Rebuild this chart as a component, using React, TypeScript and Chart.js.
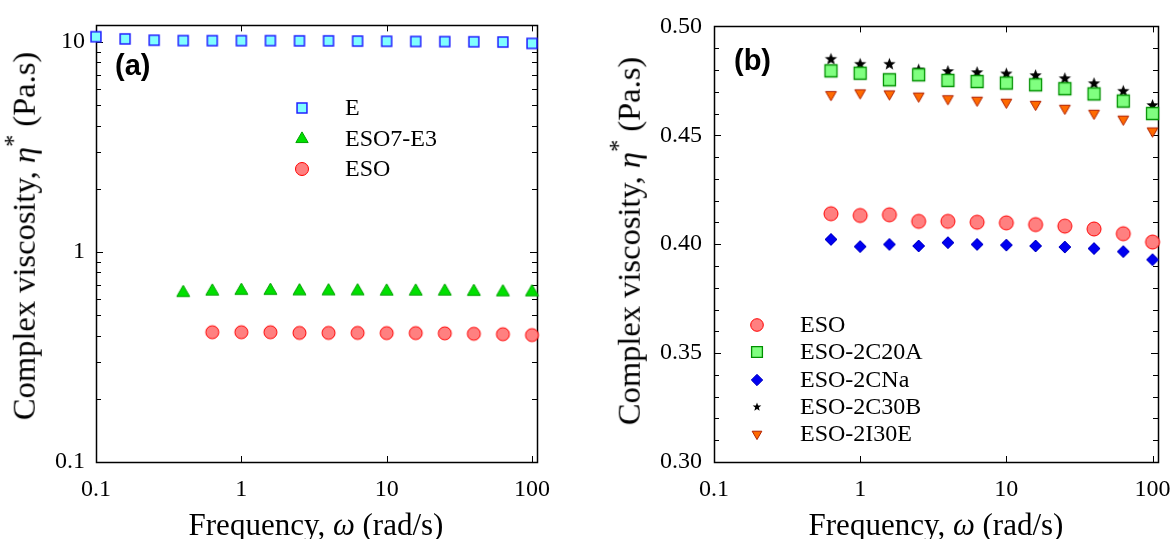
import React, { useEffect, useRef } from 'react';
import { Chart, registerables } from 'chart.js';

Chart.register(...registerables);

// ---------- data ----------
const FREQ_A_E = [0.1, 0.1585, 0.2512, 0.3981, 0.631, 1, 1.585, 2.512, 3.981, 6.31, 10, 15.85, 25.12, 39.81, 63.1, 100];
const VISC_A_E = [10.6, 10.35, 10.2, 10.16, 10.15, 10.15, 10.15, 10.13, 10.13, 10.1, 10.08, 10.06, 10.05, 10.03, 10.0, 9.85];

const FREQ_A_ESO7 = [0.3981, 0.631, 1, 1.585, 2.512, 3.981, 6.31, 10, 15.85, 25.12, 39.81, 63.1, 100];
const VISC_A_ESO7 = [0.64, 0.65, 0.655, 0.655, 0.652, 0.652, 0.652, 0.65, 0.65, 0.65, 0.648, 0.645, 0.645];

const FREQ_A_ESO = [0.631, 1, 1.585, 2.512, 3.981, 6.31, 10, 15.85, 25.12, 39.81, 63.1, 100];
const VISC_A_ESO = [0.415, 0.415, 0.415, 0.412, 0.412, 0.412, 0.411, 0.411, 0.41, 0.408, 0.406, 0.402];

const FREQ_B = [0.631, 1, 1.585, 2.512, 3.981, 6.31, 10, 15.85, 25.12, 39.81, 63.1, 100];
const VISC_B_ESO = [0.414, 0.4132, 0.4135, 0.4105, 0.4105, 0.4101, 0.4098, 0.409, 0.4083, 0.407, 0.4048, 0.401];
const VISC_B_2C20A = [0.4796, 0.4785, 0.4755, 0.4778, 0.4752, 0.4747, 0.474, 0.4732, 0.4714, 0.469, 0.4657, 0.46];
const VISC_B_2CNA = [0.4022, 0.3989, 0.3999, 0.3992, 0.4007, 0.3999, 0.3996, 0.3992, 0.3987, 0.398, 0.3966, 0.3929];
const VISC_B_2C30B = [0.4849, 0.4826, 0.4826, 0.48, 0.4793, 0.4788, 0.4782, 0.4774, 0.476, 0.4737, 0.4702, 0.4637];
const VISC_B_2I30E = [0.4687, 0.4695, 0.469, 0.468, 0.4668, 0.4661, 0.4652, 0.4642, 0.4624, 0.4601, 0.4574, 0.452];

const LABELS_A = ['E', 'ESO7-E3', 'ESO'];
const LABELS_B = ['ESO', 'ESO-2C20A', 'ESO-2CNa', 'ESO-2C30B', 'ESO-2I30E'];

const X_TICKS = [0.1, 1, 10, 100];
const X_TICK_LABELS = ['0.1', '1', '10', '100'];
const YA_TICKS = [0.1, 1, 10];
const YA_TICK_LABELS = ['0.1', '1', '10'];
const YA_MINOR_TICKS = [0.2, 0.3, 0.4, 0.5, 0.6, 0.7, 0.8, 0.9, 2, 3, 4, 5, 6, 7, 8, 9];
const YB_TICKS = [0.3, 0.35, 0.4, 0.45, 0.5];
const YB_TICK_LABELS = ['0.30', '0.35', '0.40', '0.45', '0.50'];
const YB_MINOR_TICKS = [0.31, 0.32, 0.33, 0.34, 0.36, 0.37, 0.38, 0.39, 0.41, 0.42, 0.43, 0.44, 0.46, 0.47, 0.48, 0.49];

// ---------- styles ----------
const SERIF = "'Liberation Serif', 'Times New Roman', serif";
Chart.defaults.font.family = SERIF;
Chart.defaults.color = '#000';

type Marker = { shape: string; r: number; fill: string; stroke: string; lw: number };

const M_E: Marker = { shape: 'rect', r: 7, fill: '#80FFFF', stroke: '#2020FF', lw: 1.5 };
const M_ESO7: Marker = { shape: 'triangle', r: 7.5, fill: '#00E000', stroke: '#00A000', lw: 1 };
const M_ESO_A: Marker = { shape: 'circle', r: 6.5, fill: '#FF8080', stroke: '#FF0000', lw: 1 };
const M_ESO_B: Marker = { shape: 'circle', r: 7, fill: '#FF8080', stroke: '#FF0000', lw: 1 };
const M_2C20A: Marker = { shape: 'rect', r: 8.5, fill: '#80FF80', stroke: '#009000', lw: 1.3 };
const M_2CNA: Marker = { shape: 'rectRot', r: 6, fill: '#0000F0', stroke: '#0000C0', lw: 1 };
const M_2C30B: Marker = { shape: 'star', r: 6.5, fill: '#000000', stroke: '#000000', lw: 0 };
const M_2I30E: Marker = { shape: 'triDown', r: 6.2, fill: '#FF6A00', stroke: '#B02000', lw: 1 };

function drawMarker(ctx: CanvasRenderingContext2D, m: Marker, x: number, y: number, scale = 1) {
  const r = m.r * scale;
  ctx.save();
  ctx.beginPath();
  if (m.shape === 'circle') {
    ctx.arc(x, y, r, 0, Math.PI * 2);
  } else if (m.shape === 'rect') {
    const s = r * Math.SQRT1_2;
    ctx.rect(x - s, y - s, 2 * s, 2 * s);
  } else if (m.shape === 'rectRot') {
    ctx.moveTo(x, y - r);
    ctx.lineTo(x + r, y);
    ctx.lineTo(x, y + r);
    ctx.lineTo(x - r, y);
    ctx.closePath();
  } else if (m.shape === 'triangle' || m.shape === 'triDown') {
    let a = m.shape === 'triDown' ? Math.PI : 0;
    for (let i = 0; i < 3; i++) {
      const px = x + Math.sin(a) * r;
      const py = y - Math.cos(a) * r;
      if (i === 0) ctx.moveTo(px, py);
      else ctx.lineTo(px, py);
      a += (2 * Math.PI) / 3;
    }
    ctx.closePath();
  } else if (m.shape === 'star') {
    for (let i = 0; i < 10; i++) {
      const rr = i % 2 === 0 ? r : r * 0.42;
      const a = (i * Math.PI) / 5;
      const px = x + Math.sin(a) * rr;
      const py = y - Math.cos(a) * rr;
      if (i === 0) ctx.moveTo(px, py);
      else ctx.lineTo(px, py);
    }
    ctx.closePath();
  }
  ctx.fillStyle = m.fill;
  ctx.fill();
  if (m.lw > 0) {
    ctx.lineWidth = m.lw;
    ctx.strokeStyle = m.stroke;
    ctx.stroke();
  }
  ctx.restore();
}

function markerImage(m: Marker): HTMLCanvasElement {
  const size = Math.ceil(m.r * 2 + 4);
  const c = document.createElement('canvas');
  c.width = size;
  c.height = size;
  const ctx = c.getContext('2d')!;
  drawMarker(ctx, m, size / 2, size / 2);
  return c;
}

function makeDataset(label: string, xs: number[], ys: number[], m: Marker) {
  return {
    label,
    data: xs.map((x, i) => ({ x, y: ys[i] })),
    pointStyle: markerImage(m) as any,
    pointRadius: m.r,
    showLine: false,
    clip: false as any,
  };
}

const framePlugin = {
  id: 'frame',
  beforeDatasetsDraw(chart: any, _args: any, opts: any) {
    const { ctx, chartArea } = chart;
    const { left, right, top, bottom } = chartArea;
    const x = chart.scales.x;
    const y = chart.scales.y;
    ctx.save();
    ctx.strokeStyle = '#000';
    ctx.lineWidth = 1;
    const line = (x1: number, y1: number, x2: number, y2: number) => {
      ctx.beginPath();
      ctx.moveTo(x1, y1);
      ctx.lineTo(x2, y2);
      ctx.stroke();
    };
    for (const v of opts.xMajor) {
      const px = Math.round(x.getPixelForValue(v)) + 0.5;
      line(px, bottom, px, bottom - 6);
      line(px, top, px, top + 6);
    }
    for (const v of opts.yMajor) {
      const py = Math.round(y.getPixelForValue(v)) + 0.5;
      line(left, py, left + 7, py);
      line(right, py, right - 7, py);
    }
    for (const v of opts.yMinor) {
      const py = Math.round(y.getPixelForValue(v)) + 0.5;
      line(left, py, left + 5, py);
      line(right, py, right - 5, py);
    }
    ctx.lineWidth = 1.5;
    ctx.strokeRect(Math.round(left) + 0.5, Math.round(top) + 0.5, Math.round(right - left), Math.round(bottom - top));
    ctx.restore();
  },
};

const legendPlugin = {
  id: 'customLegend',
  afterDatasetsDraw(chart: any, _args: any, opts: any) {
    const { ctx } = chart;
    ctx.save();
    ctx.font = `24px ${SERIF}`;
    ctx.fillStyle = '#000';
    ctx.textBaseline = 'middle';
    ctx.textAlign = 'left';
    opts.items.forEach((it: any) => {
      drawMarker(ctx, it.marker, opts.markerX, it.y, it.scale ?? 1);
      ctx.fillText(it.text, opts.textX, it.y + 1);
    });
    ctx.restore();
  },
};

function axisCommon(ticks: number[], labels: string[], padding: number, fit: (s: any) => void) {
  return {
    grid: { display: false, drawTicks: false },
    border: { display: false },
    ticks: {
      color: '#000',
      font: { family: SERIF, size: 24, style: 'normal', weight: 'normal' },
      padding,
      autoSkip: false,
      maxRotation: 0,
      minRotation: 0,
      major: { enabled: false },
      callback: (_v: any, i: number) => labels[i],
    },
    afterBuildTicks: (s: any) => {
      s.ticks = ticks.map((v) => ({ value: v }));
    },
    afterFit: fit,
  };
}

export default function App() {
  const refA = useRef<HTMLCanvasElement>(null);
  const refB = useRef<HTMLCanvasElement>(null);

  useEffect(() => {
    const chartA = new Chart(refA.current!, {
      type: 'scatter',
      data: {
        datasets: [
          makeDataset(LABELS_A[0], FREQ_A_E, VISC_A_E, M_E),
          makeDataset(LABELS_A[1], FREQ_A_ESO7, VISC_A_ESO7, M_ESO7),
          makeDataset(LABELS_A[2], FREQ_A_ESO, VISC_A_ESO, M_ESO_A),
        ] as any,
      },
      options: {
        responsive: false,
        animation: false,
        events: [],
        layout: { padding: { left: 0, right: 43, top: 20, bottom: 0 } },
        plugins: {
          legend: { display: false },
          tooltip: { enabled: false },
          frame: { xMajor: X_TICKS, yMajor: YA_TICKS, yMinor: YA_MINOR_TICKS },
          customLegend: {
            markerX: 302,
            textX: 345,
            items: [
              { text: LABELS_A[0], marker: M_E, y: 108 },
              { text: LABELS_A[1], marker: M_ESO7, y: 139, scale: 0.95 },
              { text: LABELS_A[2], marker: M_ESO_A, y: 169 },
            ],
          },
        } as any,
        scales: {
          x: {
            type: 'logarithmic',
            position: 'bottom',
            min: 0.1,
            max: 108.3,
            ...axisCommon(X_TICKS, X_TICK_LABELS, 13, (s: any) => { s.height = 77; }),
          } as any,
          y: {
            type: 'logarithmic',
            position: 'left',
            min: 0.1,
            max: 12,
            ...axisCommon(YA_TICKS, YA_TICK_LABELS, 11, (s: any) => { s.width = 96; }),
          } as any,
        },
      },
      plugins: [framePlugin, legendPlugin],
    });

    const chartB = new Chart(refB.current!, {
      type: 'scatter',
      data: {
        datasets: [
          makeDataset(LABELS_B[0], FREQ_B, VISC_B_ESO, M_ESO_B),
          makeDataset(LABELS_B[1], FREQ_B, VISC_B_2C20A, M_2C20A),
          makeDataset(LABELS_B[2], FREQ_B, VISC_B_2CNA, M_2CNA),
          makeDataset(LABELS_B[3], FREQ_B, VISC_B_2C30B, M_2C30B),
          makeDataset(LABELS_B[4], FREQ_B, VISC_B_2I30E, M_2I30E),
        ] as any,
      },
      options: {
        responsive: false,
        animation: false,
        events: [],
        layout: { padding: { left: 0, right: 62, top: 21, bottom: 0 } },
        plugins: {
          legend: { display: false },
          tooltip: { enabled: false },
          frame: { xMajor: X_TICKS, yMajor: YB_TICKS, yMinor: YB_MINOR_TICKS },
          customLegend: {
            markerX: 177,
            textX: 220,
            items: [
              { text: LABELS_B[0], marker: M_ESO_B, y: 325, scale: 0.9 },
              { text: LABELS_B[1], marker: M_2C20A, y: 352, scale: 0.9 },
              { text: LABELS_B[2], marker: M_2CNA, y: 380, scale: 0.95 },
              { text: LABELS_B[3], marker: M_2C30B, y: 407, scale: 0.7 },
              { text: LABELS_B[4], marker: M_2I30E, y: 434, scale: 0.9 },
            ],
          },
        } as any,
        scales: {
          x: {
            type: 'logarithmic',
            position: 'bottom',
            min: 0.1,
            max: 109,
            ...axisCommon(X_TICKS, X_TICK_LABELS, 13, (s: any) => { s.height = 77; }),
          } as any,
          y: {
            type: 'linear',
            position: 'left',
            min: 0.3,
            max: 0.5,
            ...axisCommon(YB_TICKS, YB_TICK_LABELS, 12, (s: any) => { s.width = 134; }),
          } as any,
        },
      },
      plugins: [framePlugin, legendPlugin],
    });

    return () => {
      chartA.destroy();
      chartB.destroy();
    };
  }, []);

  const titleFont: React.CSSProperties = {
    position: 'absolute',
    fontFamily: SERIF,
    fontSize: 31,
    lineHeight: 1,
    whiteSpace: 'nowrap',
    color: '#000',
  };
  const yTitle = (
    <>
      Complex viscosity, <i>η</i>
      <span style={{ fontSize: '0.75em', position: 'relative', top: '-0.55em' }}>*</span> (Pa.s)
    </>
  );
  const xTitle = (
    <>
      Frequency, <i>ω</i> (rad/s)
    </>
  );
  const panelLabel: React.CSSProperties = {
    position: 'absolute',
    fontFamily: "'Liberation Sans', Arial, sans-serif",
    fontWeight: 'bold',
    fontSize: 29,
    lineHeight: 1,
    color: '#000',
    whiteSpace: 'nowrap',
  };

  return (
    <div style={{ position: 'absolute', left: 0, top: 0, width: 1173, height: 539, background: '#fff', overflow: 'hidden' }}>
      <canvas ref={refA} width={580} height={539} style={{ position: 'absolute', left: 0, top: 0, width: 580, height: 539 }} />
      <canvas ref={refB} width={640} height={539} style={{ position: 'absolute', left: 580, top: 0, width: 640, height: 539 }} />
      <div style={{ ...titleFont, fontSize: 32.5, left: 24, top: 236, transform: 'translate(-50%, -50%) rotate(-90deg)' }}>{yTitle}</div>
      <div style={{ ...titleFont, fontSize: 32.5, left: 629, top: 241, transform: 'translate(-50%, -50%) rotate(-90deg)' }}>{yTitle}</div>
      <div style={{ ...titleFont, left: 316, top: 509, transform: 'translateX(-50%)' }}>{xTitle}</div>
      <div style={{ ...titleFont, left: 936, top: 509, transform: 'translateX(-50%)' }}>{xTitle}</div>
      <div style={{ ...panelLabel, left: 115, top: 51 }}>(a)</div>
      <div style={{ ...panelLabel, left: 734, top: 46 }}>(b)</div>
    </div>
  );
}
